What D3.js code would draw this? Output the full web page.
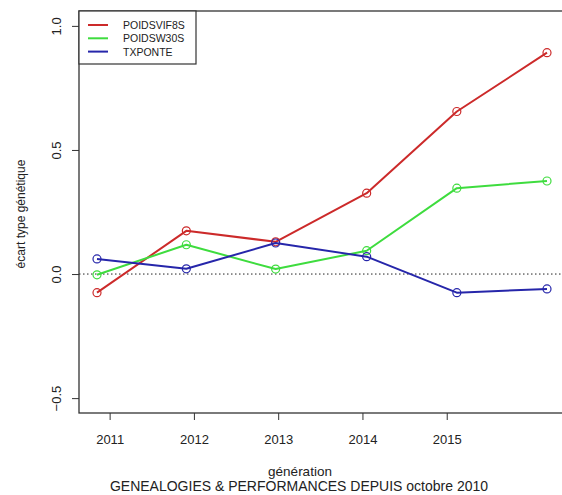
<!DOCTYPE html>
<html>
<head>
<meta charset="utf-8">
<script src="https://cdn.jsdelivr.net/npm/d3@7"></script>
<style>
  html, body { margin: 0; padding: 0; background: #fff; }
  svg { display: block; font-family: "Liberation Sans", Arial, sans-serif; }
</style>
</head>
<body>
<svg id="chart" width="562" height="495"></svg>
<script>
// Generation dates (decimal years)
const generations = [2010.85, 2011.91, 2012.97, 2014.05, 2015.12, 2016.19];
// Genetic standard deviation per trait
const poidsVif8s = [-0.075, 0.174, 0.13, 0.326, 0.655, 0.892];
const poidsW30s  = [-0.003, 0.118, 0.02, 0.094, 0.346, 0.375];
const txPonte    = [0.061, 0.021, 0.125, 0.07, -0.075, -0.06];

const seriesNames  = ["POIDSVIF8S", "POIDSW30S", "TXPONTE"];
const seriesColors = ["#cc2a2a", "#3edc3e", "#2626aa"];
const xTicks = [2011, 2012, 2013, 2014, 2015];
const yTicks = [-0.5, 0.0, 0.5, 1.0];
const yLimits = [-0.5, 1.0];

const series = [poidsVif8s, poidsW30s, txPonte].map((vals, i) => ({
  name: seriesNames[i],
  color: seriesColors[i],
  points: vals.map((v, j) => ({ x: generations[j], y: v }))
}));

const svg = d3.select("#chart");
const plotL = 79, plotT = 11, plotR = 565, plotB = 413;

// R-style 4% axis extension
function ext(lo, hi) { const d = (hi - lo) * 0.04; return [lo - d, hi + d]; }
const x = d3.scaleLinear().domain(ext(d3.min(generations), d3.max(generations))).range([plotL, plotR]);
const y = d3.scaleLinear().domain(ext(yLimits[0], yLimits[1])).range([plotB, plotT]);

// Zero reference line
svg.append("line")
  .attr("x1", plotL).attr("x2", plotR)
  .attr("y1", y(0)).attr("y2", y(0))
  .attr("stroke", "#222").attr("stroke-width", 1)
  .attr("stroke-dasharray", "1.5,2.5");

// Series lines and open circle markers
const line = d3.line().x(d => x(d.x)).y(d => y(d.y));
series.forEach(s => {
  svg.append("path")
    .datum(s.points)
    .attr("d", line)
    .attr("fill", "none")
    .attr("stroke", s.color)
    .attr("stroke-width", 2)
    .attr("stroke-linejoin", "round");
  svg.selectAll(null)
    .data(s.points)
    .enter().append("circle")
    .attr("cx", d => x(d.x))
    .attr("cy", d => y(d.y))
    .attr("r", 4)
    .attr("fill", "none")
    .attr("stroke", s.color)
    .attr("stroke-width", 1.2);
});

// Plot frame
svg.append("rect")
  .attr("x", plotL).attr("y", plotT)
  .attr("width", plotR - plotL).attr("height", plotB - plotT)
  .attr("fill", "none").attr("stroke", "#333").attr("stroke-width", 1.3);

// Bottom axis
const xAxis = d3.axisBottom(x).tickValues(xTicks).tickFormat(d3.format("d")).tickSize(7).tickPadding(15);
const gx = svg.append("g").attr("transform", `translate(0,${plotB})`).call(xAxis);
gx.select(".domain").remove();
gx.selectAll(".tick line").attr("stroke", "#333");
gx.selectAll(".tick text").attr("font-size", 13).attr("fill", "#222")
  .attr("font-family", "Liberation Sans, Arial, sans-serif");

// Left axis with rotated labels
const yAxis = d3.axisLeft(y).tickValues(yTicks).tickFormat(d3.format(".1f")).tickSize(7);
const gy = svg.append("g").attr("transform", `translate(${plotL},0)`).call(yAxis);
gy.select(".domain").remove();
gy.selectAll(".tick line").attr("stroke", "#333");
gy.selectAll(".tick text")
  .attr("font-size", 13).attr("fill", "#222")
  .attr("font-family", "Liberation Sans, Arial, sans-serif")
  .attr("x", null).attr("dy", null)
  .attr("text-anchor", "middle")
  .attr("transform", "translate(-23,0) rotate(-90)")
  .attr("dominant-baseline", "central");

// Axis titles
svg.append("text")
  .attr("transform", `translate(21,${(plotT + plotB) / 2 + 2}) rotate(-90)`)
  .attr("text-anchor", "middle").attr("dominant-baseline", "central")
  .attr("font-size", 12).attr("fill", "#222")
  .text("écart type génétique");

svg.append("text")
  .attr("x", 300).attr("y", 476)
  .attr("text-anchor", "middle")
  .attr("font-size", 13.5).attr("fill", "#222")
  .text("génération");

svg.append("text")
  .attr("x", 299).attr("y", 491)
  .attr("text-anchor", "middle")
  .attr("font-size", 14).attr("fill", "#222")
  .text("GENEALOGIES & PERFORMANCES DEPUIS octobre 2010");

// Legend
const legend = svg.append("g");
legend.append("rect")
  .attr("x", plotL).attr("y", plotT)
  .attr("width", 117).attr("height", 53)
  .attr("fill", "#fff").attr("stroke", "#333").attr("stroke-width", 1.2);
series.forEach((s, i) => {
  const ly = 25 + i * 13.3;
  legend.append("line")
    .attr("x1", 88).attr("x2", 108).attr("y1", ly).attr("y2", ly)
    .attr("stroke", s.color).attr("stroke-width", 2);
  legend.append("text")
    .attr("x", 123).attr("y", ly)
    .attr("dominant-baseline", "central")
    .attr("font-size", 10.5).attr("fill", "#222")
    .text(s.name);
});
</script>
</body>
</html>
